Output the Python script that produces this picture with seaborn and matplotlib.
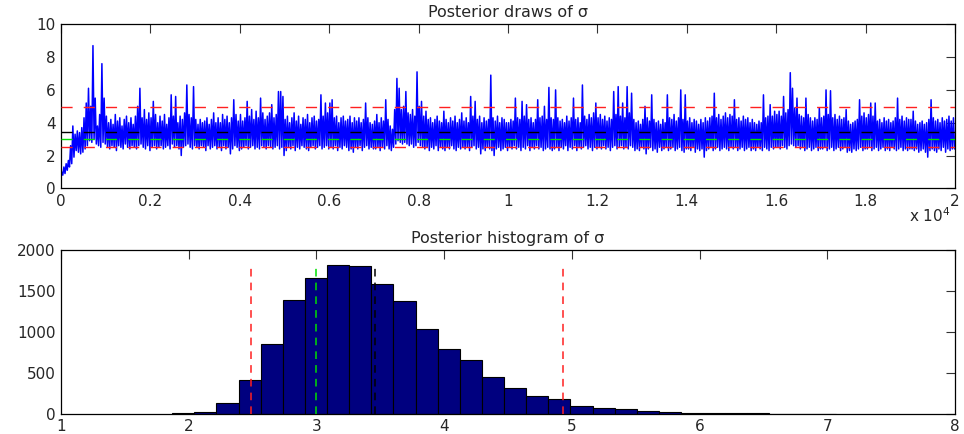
import numpy as np
import pandas as pd
import matplotlib
matplotlib.use("Agg")
import matplotlib.pyplot as plt
import seaborn as sns

# ---------------- data ----------------
# Trace of the 20000 draws, summarised as the highest and lowest value
# seen in each block of 50 draws (one row of 20 blocks = 1000 draws).
chunk_size = 50
trace_high = [
    1.0, 1.3, 1.5, 1.7, 2.6, 3.8, 3.3, 3.5, 3.4, 3.7, 4.3, 5.2, 6.1, 5.0, 8.7, 5.5, 3.8, 4.5, 7.6, 5.5,
    4.4, 4.0, 4.2, 3.9, 4.5, 4.1, 4.3, 3.8, 4.2, 4.4, 4.0, 4.3, 3.9, 4.4, 5.0, 6.1, 4.3, 4.8, 4.2, 4.6,
    4.3, 5.3, 4.5, 4.0, 4.4, 4.1, 4.5, 3.9, 4.3, 5.7, 4.4, 5.6, 4.0, 4.4, 4.2, 4.6, 6.3, 4.5, 4.3, 6.2,
    4.2, 3.9, 4.2, 4.0, 4.1, 4.3, 3.9, 4.2, 4.6, 4.0, 4.3, 4.0, 4.5, 4.2, 4.4, 4.0, 4.3, 5.4, 4.5, 4.1,
    4.5, 4.1, 4.3, 5.3, 4.4, 4.8, 4.2, 4.7, 4.3, 5.5, 4.6, 4.2, 4.4, 4.6, 5.1, 4.3, 4.5, 5.9, 5.9, 5.6,
    4.2, 4.4, 4.0, 4.3, 4.6, 4.1, 4.4, 3.9, 4.3, 4.2, 4.5, 4.0, 4.3, 4.4, 4.1, 4.2, 5.7, 4.4, 5.2, 4.6,
    5.2, 5.4, 4.3, 4.4, 4.0, 4.3, 4.4, 4.1, 4.2, 4.4, 4.0, 4.3, 4.1, 4.3, 4.0, 4.2, 5.2, 4.3, 4.0, 3.9,
    4.1, 4.5, 4.0, 4.3, 4.1, 5.4, 4.2, 3.8, 3.6, 4.8, 6.7, 6.1, 4.8, 5.0, 5.9, 4.6, 4.5, 4.8, 4.4, 7.1,
    5.0, 5.3, 4.4, 4.7, 4.2, 4.3, 4.0, 4.2, 4.4, 4.1, 4.0, 4.7, 4.2, 4.0, 4.3, 4.1, 4.4, 4.0, 4.2, 4.6,
    4.1, 4.3, 4.0, 5.6, 4.4, 5.3, 4.2, 4.4, 4.0, 4.3, 4.1, 4.2, 6.9, 4.3, 4.1, 4.4, 4.0, 4.3, 4.2, 4.0,
    4.0, 4.2, 4.1, 5.5, 4.3, 4.2, 5.3, 4.4, 5.1, 4.2, 4.3, 4.0, 4.2, 5.4, 4.3, 4.4, 5.0, 4.2, 6.15, 4.3,
    4.2, 6.0, 4.3, 4.1, 4.2, 4.0, 4.4, 4.1, 4.3, 5.5, 4.2, 4.3, 4.0, 6.3, 4.4, 4.2, 4.5, 4.3, 4.6, 5.2,
    4.3, 4.5, 4.2, 4.4, 4.1, 4.3, 4.2, 5.9, 4.5, 6.2, 4.4, 5.2, 4.3, 6.2, 4.6, 5.8, 4.2, 4.0, 4.1, 3.9,
    4.2, 5.0, 4.3, 4.1, 5.7, 4.2, 4.0, 4.1, 3.9, 4.2, 4.0, 5.7, 4.3, 4.2, 4.5, 4.1, 4.3, 6.0, 4.2, 5.7,
    4.1, 4.3, 4.0, 4.2, 4.1, 3.9, 4.2, 4.0, 4.3, 4.1, 4.3, 4.4, 5.8, 4.3, 4.5, 4.2, 4.4, 4.6, 4.3, 4.5,
    4.4, 5.4, 4.2, 4.3, 4.1, 4.4, 4.2, 4.3, 4.0, 4.2, 4.0, 3.9, 4.1, 4.0, 5.7, 4.3, 4.4, 5.1, 4.4, 4.7,
    4.5, 4.7, 4.4, 5.6, 4.6, 4.8, 7.05, 6.1, 4.9, 5.5, 4.5, 4.4, 4.3, 5.5, 4.5, 4.3, 4.1, 4.3, 4.2, 4.9,
    4.3, 4.4, 6.0, 4.5, 5.95, 4.3, 4.5, 4.2, 4.4, 4.2, 4.3, 4.8, 4.1, 3.9, 4.0, 4.1, 4.2, 5.4, 4.4, 4.6,
    4.3, 4.5, 5.2, 4.4, 5.2, 4.1, 4.2, 4.0, 4.3, 4.1, 4.2, 4.0, 4.1, 4.3, 5.5, 4.2, 4.4, 4.1, 4.3, 4.2,
    4.2, 4.7, 4.1, 3.9, 4.0, 4.1, 3.9, 4.0, 4.2, 5.4, 4.3, 4.1, 4.2, 4.0, 4.3, 4.1, 4.2, 4.4, 4.1, 4.3,
]
trace_low = [
    0.8, 0.9, 1.1, 1.3, 1.5, 1.9, 2.3, 2.2, 2.1, 2.2, 2.4, 2.6, 2.9, 2.8, 3.0, 2.7, 2.6, 2.5, 2.8, 2.7,
    2.5, 2.4, 2.6, 2.5, 2.3, 2.6, 2.5, 2.4, 2.7, 2.5, 2.4, 2.6, 2.5, 2.4, 2.6, 2.7, 2.5, 2.4, 2.6, 2.3,
    2.5, 2.6, 2.4, 2.5, 2.6, 2.4, 2.5, 2.6, 2.4, 2.7, 2.5, 2.6, 2.4, 2.0, 2.5, 2.6, 2.7, 2.5, 2.4, 2.6,
    2.5, 2.4, 2.6, 2.5, 2.3, 2.6, 2.4, 2.5, 2.6, 2.4, 2.5, 2.3, 2.6, 2.4, 2.5, 2.1, 2.4, 2.6, 2.5, 2.3,
    2.4, 2.5, 2.6, 2.4, 2.5, 2.6, 2.4, 2.5, 2.4, 2.6, 2.5, 2.4, 2.6, 2.5, 2.4, 2.5, 2.6, 2.4, 2.5, 2.0,
    2.3, 2.5, 2.4, 2.6, 2.3, 2.5, 2.4, 2.6, 2.5, 2.4, 2.3, 2.5, 2.6, 2.4, 2.5, 2.6, 2.4, 2.5, 2.6, 2.4,
    2.5, 2.4, 2.6, 2.3, 2.5, 2.4, 2.6, 2.5, 2.3, 2.4, 2.2, 2.5, 2.4, 2.6, 2.3, 2.5, 2.6, 2.4, 2.5, 2.4,
    2.4, 2.5, 2.3, 2.5, 2.4, 2.6, 2.4, 2.3, 2.5, 2.7, 2.9, 2.8, 2.7, 2.8, 2.7, 2.6, 2.7, 2.5, 2.6, 2.8,
    2.6, 2.5, 2.4, 2.5, 2.3, 2.5, 2.4, 2.6, 2.3, 2.5, 2.4, 2.3, 2.5, 2.4, 2.6, 2.4, 2.3, 2.5, 2.4, 2.5,
    2.4, 2.5, 2.3, 2.5, 2.6, 2.4, 2.5, 2.1, 2.4, 2.3, 2.5, 2.4, 2.3, 2.0, 2.4, 2.5, 2.3, 2.4, 2.5, 2.3,
    2.5, 2.4, 2.6, 2.4, 2.5, 2.3, 2.5, 2.4, 2.6, 2.3, 2.5, 2.4, 2.6, 2.4, 2.5, 2.3, 2.4, 2.5, 2.4, 2.3,
    2.4, 2.5, 2.3, 2.5, 2.4, 2.6, 2.3, 2.5, 2.4, 2.6, 2.3, 2.5, 2.4, 2.5, 2.6, 2.4, 2.5, 2.3, 2.5, 2.4,
    2.5, 2.4, 2.6, 2.4, 2.5, 2.3, 2.5, 2.6, 2.4, 2.5, 2.6, 2.4, 2.5, 2.4, 2.6, 2.5, 2.3, 2.4, 2.3, 2.5,
    2.4, 2.1, 2.4, 2.5, 2.3, 2.4, 2.2, 2.5, 2.3, 2.4, 2.5, 2.3, 2.4, 2.5, 2.3, 2.4, 2.5, 2.3, 2.2, 2.4,
    2.4, 2.3, 2.5, 2.2, 2.4, 2.3, 2.4, 1.9, 2.3, 2.4, 2.5, 2.3, 2.4, 2.5, 2.3, 2.4, 2.5, 2.4, 2.3, 2.5,
    2.4, 2.5, 2.3, 2.4, 2.5, 2.3, 2.4, 2.5, 2.3, 2.4, 2.3, 2.5, 2.4, 2.3, 2.5, 2.4, 2.3, 2.5, 2.4, 2.5,
    2.5, 2.4, 2.6, 2.5, 2.4, 2.6, 2.7, 2.6, 2.5, 2.6, 2.4, 2.5, 2.3, 2.4, 2.5, 2.3, 2.4, 2.5, 2.3, 2.4,
    2.4, 2.5, 2.3, 2.4, 2.5, 2.3, 2.4, 2.5, 2.3, 2.4, 2.5, 2.2, 2.3, 2.2, 2.4, 2.3, 2.4, 2.5, 2.3, 2.4,
    2.4, 2.5, 2.3, 2.4, 2.5, 2.3, 2.4, 2.5, 2.3, 2.4, 2.3, 2.5, 2.4, 2.3, 2.4, 2.5, 2.3, 2.4, 2.3, 2.4,
    2.4, 2.3, 2.4, 2.2, 2.3, 2.4, 2.2, 1.9, 2.3, 2.4, 2.3, 2.2, 2.4, 2.3, 2.5, 2.2, 2.4, 2.3, 2.4, 2.4,
]

# reference levels: lower / upper 95% band, median (green), mean (black)
band_lo = 2.49
band_hi = 4.93
median_val = 3.00
mean_val = 3.46

# histogram of the post-burn-in draws
hist_lo = 1.871
hist_hi = 7.067
n_bins = 30
hist_counts = [5, 25, 127, 413, 855, 1390, 1655, 1815, 1810, 1585,
               1375, 1035, 790, 650, 445, 311, 213, 180, 95, 70,
               57, 37, 22, 14, 8, 5, 3, 2, 2, 1]

top_xticks = [0, 2000, 4000, 6000, 8000, 10000, 12000, 14000, 16000, 18000, 20000]
top_xticklabels = ["0", "0.2", "0.4", "0.6", "0.8", "1", "1.2", "1.4", "1.6", "1.8", "2"]
top_yticks = [0, 2, 4, 6, 8, 10]
bot_xticks = [1, 2, 3, 4, 5, 6, 7, 8]
bot_yticks = [0, 500, 1000, 1500, 2000]

# ---------------- build tables ----------------
n_chunks = len(trace_high)
xs, ys = [], []
for c in range(n_chunks):
    base = c * chunk_size
    xs += [base + 0.3 * chunk_size, base + 0.8 * chunk_size]
    ys += [trace_high[c], trace_low[c]]
trace_df = pd.DataFrame({"draw": xs, "sigma": ys})

bin_w = (hist_hi - hist_lo) / n_bins
centers = [hist_lo + (i + 0.5) * bin_w for i in range(n_bins)]
hist_df = pd.DataFrame({"sigma": centers, "count": hist_counts})

# ---------------- style ----------------
sns.set_style("white")
plt.rcParams["font.family"] = ["DejaVu Sans"]
plt.rcParams["font.size"] = 11
plt.rcParams["axes.linewidth"] = 0.9
plt.rcParams["axes.edgecolor"] = "black"

fig = plt.figure(figsize=(9.64, 4.34), dpi=100)
ax1 = fig.add_axes([61 / 964, 1 - 188.3 / 434, 894 / 964, 164 / 434])
ax2 = fig.add_axes([61 / 964, 1 - 413.7 / 434, 894 / 964, 163.7 / 434])

# ---------------- top: trace ----------------
sns.lineplot(data=trace_df, x="draw", y="sigma", ax=ax1, color="#0000FF",
             linewidth=1.1, sort=False, estimator=None)
dash = (0, (8, 8))
for val, col in [(band_hi, "#FF2020"), (mean_val, "black"),
                 (median_val, "#00E000"), (band_lo, "#FF2020")]:
    ax1.axhline(val, color=col, linewidth=1.0, linestyle=dash, zorder=3)
ax1.set_xlim(0, 20000)
ax1.set_ylim(0, 10)
ax1.set_xticks(top_xticks)
ax1.set_xticklabels(top_xticklabels)
ax1.set_yticks(top_yticks)
ax1.set_xlabel("")
ax1.set_ylabel("")
ax1.set_title("Posterior draws of σ", fontsize=11.5, pad=5)
ax1.text(0.995, -0.165, "x 10$^{4}$", transform=ax1.transAxes, ha="right",
         va="center", fontsize=11)

# ---------------- bottom: histogram ----------------
sns.histplot(data=hist_df, x="sigma", weights="count", binwidth=bin_w,
             binrange=(hist_lo, hist_hi), ax=ax2,
             color="#00007F", edgecolor="black", linewidth=0.8, alpha=1.0)
vmax = max(hist_counts)
for val, col in [(band_lo, "#FF2020"), (median_val, "#00E000"),
                 (mean_val, "black"), (band_hi, "#FF2020")]:
    ax2.vlines(val, 0, vmax, color=col, linewidth=1.1, linestyles=(0, (5, 4)), zorder=3)
ax2.set_xlim(1, 8)
ax2.set_ylim(0, 2000)
ax2.set_xticks(bot_xticks)
ax2.set_yticks(bot_yticks)
ax2.set_xlabel("")
ax2.set_ylabel("")
ax2.set_title("Posterior histogram of σ", fontsize=11.5, pad=5)

for ax in (ax1, ax2):
    for s in ax.spines.values():
        s.set_visible(True)
        s.set_color("black")
    ax.tick_params(direction="in", length=6.5, width=0.8, top=True, right=True,
                   color="#333333", labelsize=11, pad=4)

fig.savefig("out.png", dpi=100, facecolor="white")
